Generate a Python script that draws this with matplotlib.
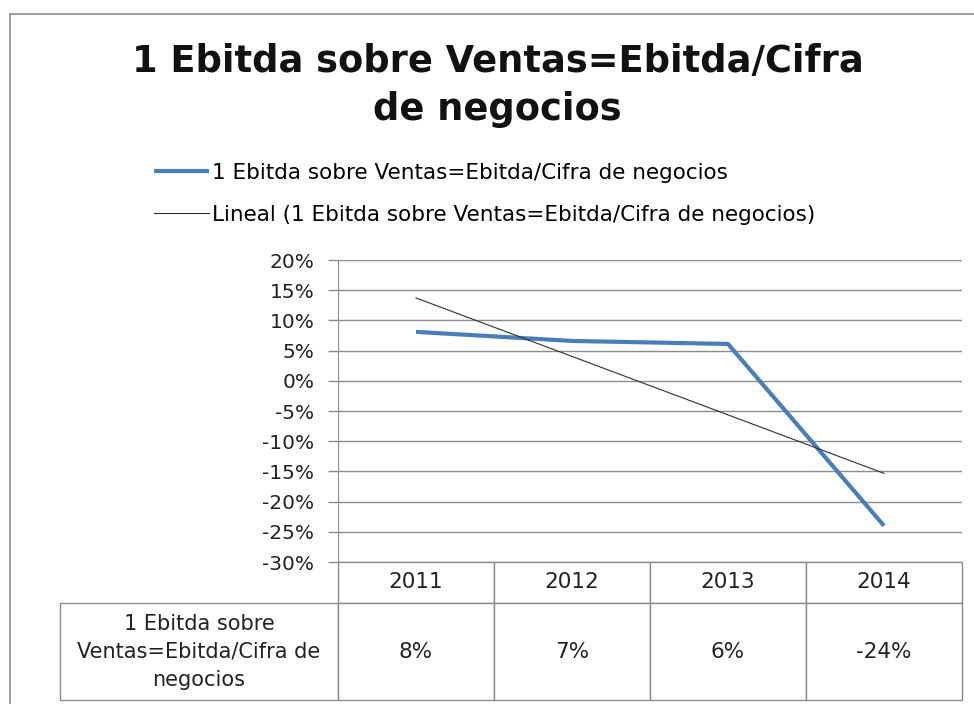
import numpy as np
import matplotlib
matplotlib.use('Agg')
import matplotlib.pyplot as plt
from matplotlib.ticker import PercentFormatter
from matplotlib.patches import Rectangle

plt.rcParams['font.family'] = ['DejaVu Sans']
plt.rcParams['axes.unicode_minus'] = False

years = ['2011', '2012', '2013', '2014']
ebitda = [8.1, 6.6, 6.1, -24.0]
ebitda_txt = ['8%', '7%', '6%', '-24%']
serie = '1 Ebitda sobre Ventas=Ebitda/Cifra de negocios'
fila = '1 Ebitda sobre\nVentas=Ebitda/Cifra de\nnegocios'

x = np.arange(len(years))
pend, ordn = np.polyfit(x, ebitda, 1)
tendencia = pend * x + ordn

fig = plt.figure(figsize=(9.74, 7.04), dpi=100)
W, H = 974, 704

# marco del grafico
fig.patches.append(Rectangle((10 / W, -0.1), 1.2, (704 - 14) / H + 0.1,
                             transform=fig.transFigure, fill=False,
                             edgecolor='#8c8c8c', lw=1.2))

aw, ah = 962 - 338, 302
ax = fig.add_axes([338 / W, (704 - 562) / H, aw / W, ah / H])

ax.plot(x, ebitda, color='#4a7ebb', lw=3, solid_capstyle='butt', label=serie, zorder=3)
ax.plot(x, tendencia, color='#303030', lw=0.8, label='Lineal (' + serie + ')', zorder=3)

ax.set_xlim(-0.5, len(years) - 0.5)
ax.set_ylim(-30, 20)
ax.set_yticks(np.arange(-30, 21, 5))
ax.yaxis.set_major_formatter(PercentFormatter(decimals=0))
ax.tick_params(axis='y', labelsize=14.5, colors='#8c8c8c', labelcolor='#222222',
               length=7, width=1, pad=10)
ax.set_xticks([])
ax.grid(axis='y', color='#8c8c8c', lw=1)
ax.set_axisbelow(True)
for s in ['top', 'right', 'bottom']:
    ax.spines[s].set_visible(False)
ax.spines['left'].set_color('#8c8c8c')

# tabla de datos
tbl = ax.table(cellText=[ebitda_txt], rowLabels=[fila], colLabels=years,
               cellLoc='center', rowLoc='center', colLoc='center',
               bbox=[0, -138 / ah, 1, 138 / ah])
tbl._autoColumns = []
tbl.auto_set_font_size(False)
for (r, c), cell in tbl.get_celld().items():
    cell.set_edgecolor('#8c8c8c')
    cell.set_linewidth(1)
    cell.set_width((278 if c == -1 else 156) / aw)
    cell.set_height((41 if r == 0 else 97) / ah)
    cell.get_text().set_fontsize(15 if c == -1 else 15.5)
    cell.get_text().set_color('#222222')
    cell.get_text().set_linespacing(1.5)

fig.text(0.511, 1 - 62 / H, '1 Ebitda sobre Ventas=Ebitda/Cifra', ha='center', va='center',
         fontsize=26.5, fontweight='bold', color='#111111')
fig.text(0.511, 1 - 110 / H, 'de negocios', ha='center', va='center',
         fontsize=26.5, fontweight='bold', color='#111111')

fig.legend(loc='upper left', bbox_to_anchor=(154 / W, 1 - 163 / H), frameon=False,
           fontsize=15.5, handlelength=2.55, handletextpad=0.15, labelspacing=1.02,
           borderaxespad=0, borderpad=0)

fig.savefig('out.png', dpi=100)
